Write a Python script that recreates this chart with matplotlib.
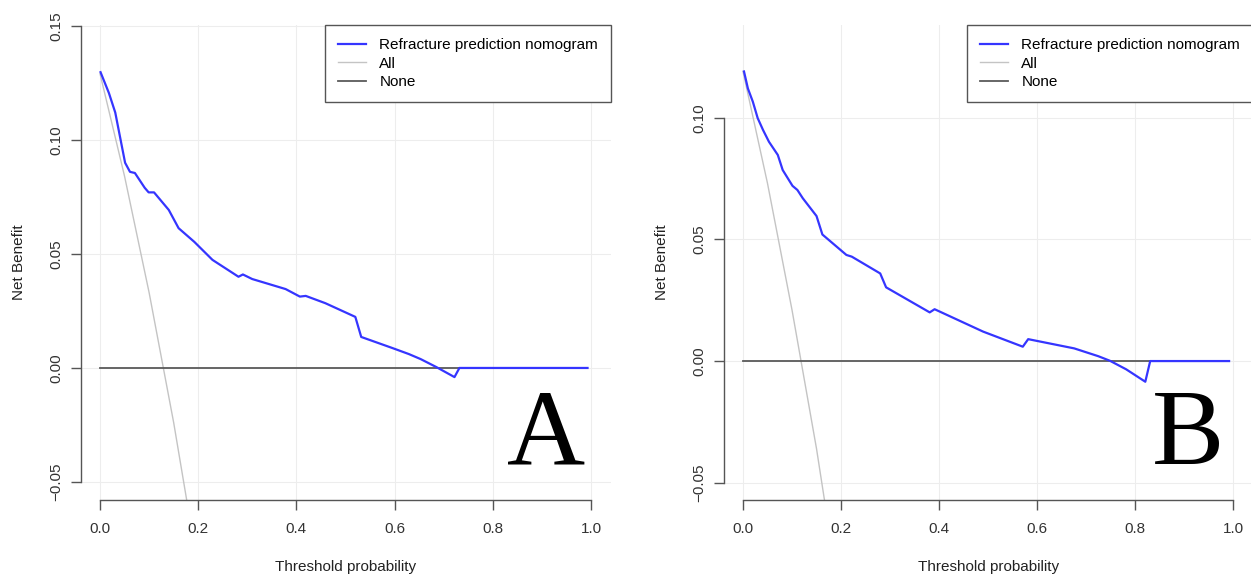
import matplotlib
matplotlib.use("Agg")
import matplotlib.pyplot as plt

plt.rcParams['font.family'] = ['Liberation Sans', 'DejaVu Sans']

# panel A: refracture nomogram
a_x = [0.001, 0.018, 0.031, 0.041, 0.051, 0.061, 0.071, 0.091, 0.099, 0.110, 0.140,
       0.160, 0.192, 0.229, 0.282, 0.291, 0.310, 0.378, 0.407, 0.419, 0.459, 0.520,
       0.532, 0.596, 0.629, 0.653, 0.685, 0.722, 0.732, 0.993]
a_y = [0.1297, 0.1206, 0.112, 0.101, 0.090, 0.086, 0.0855, 0.079, 0.077, 0.077, 0.0693,
       0.0613, 0.0553, 0.0474, 0.040, 0.041, 0.039, 0.0346, 0.0313, 0.0316, 0.0284, 0.0224,
       0.0136, 0.0087, 0.0061, 0.0039, 0.0004, -0.0040, 0.0, 0.0]
a_all_x = [0.0, 0.05, 0.10, 0.15, 0.20]
a_all_y = [0.129, 0.084, 0.033, -0.024, -0.088]

# panel B
b_x = [0.002, 0.010, 0.020, 0.030, 0.041, 0.053, 0.071, 0.081, 0.101, 0.111, 0.122,
       0.150, 0.162, 0.211, 0.222, 0.280, 0.292, 0.381, 0.391, 0.490, 0.571, 0.582,
       0.676, 0.725, 0.749, 0.782, 0.821, 0.831, 0.992]
b_y = [0.119, 0.112, 0.1066, 0.0998, 0.0949, 0.0901, 0.0847, 0.0785, 0.072, 0.0703, 0.0669,
       0.0596, 0.052, 0.0436, 0.0429, 0.036, 0.0303, 0.020, 0.0213, 0.0121, 0.0059, 0.009,
       0.0052, 0.002, 0.0001, -0.0034, -0.0085, 0.0, 0.0]
b_all_x = [0.0, 0.05, 0.10, 0.15, 0.20]
b_all_y = [0.119, 0.073, 0.021, -0.036, -0.101]

none_x = [0.0, 0.99]
none_y = [0.0, 0.0]

x_ticks = [0.0, 0.2, 0.4, 0.6, 0.8, 1.0]
a_yticks = [-0.05, 0.0, 0.05, 0.10, 0.15]
b_yticks = [-0.05, 0.0, 0.05, 0.10]

W, H = 1251, 575
fig = plt.figure(figsize=(W / 100, H / 100), dpi=100)


def panel(rect, xs, ys, all_x, all_y, ylim, yticks, letter):
    ax = fig.add_axes(rect)
    ax.set_xlim(-0.0388, 1.0408)
    ax.set_ylim(*ylim)
    for t in x_ticks:
        ax.axvline(t, color='#ededed', lw=0.8, zorder=0)
    for t in yticks:
        ax.axhline(t, color='#ededed', lw=0.8, zorder=0)
    ax.plot(all_x, all_y, color='#c4c4c4', lw=1.0, label='All', zorder=2)
    ax.plot(none_x, none_y, color='#5a5a5a', lw=1.3, label='None', zorder=2)
    ax.plot(xs, ys, color='#3535ff', lw=1.6, label='Refracture prediction nomogram', zorder=3)

    h, l = ax.get_legend_handles_labels()
    order = [2, 0, 1]
    leg = ax.legend([h[i] for i in order], [l[i] for i in order], loc='upper right',
                    borderaxespad=0, fancybox=False, framealpha=1, fontsize=11,
                    handlelength=1.8, handletextpad=0.9, borderpad=0.85, labelspacing=0.3)
    leg.get_frame().set_edgecolor('#555555')
    leg.get_frame().set_linewidth(1.0)

    for s in ['top', 'right']:
        ax.spines[s].set_visible(False)
    ax.spines['left'].set_bounds(yticks[0], yticks[-1])
    ax.spines['bottom'].set_bounds(0.0, 1.0)
    for s in ['left', 'bottom']:
        ax.spines[s].set_color('#555555')
        ax.spines[s].set_linewidth(1.0)

    ax.set_xticks(x_ticks)
    ax.set_xticklabels(['%.1f' % t for t in x_ticks])
    ax.set_yticks(yticks)
    ax.set_yticklabels([('%.2f' % t).replace('-', '\u2212') for t in yticks],
                       rotation=90, va='center')
    ax.tick_params(length=7, width=1.0, color='#555555', labelcolor='#333333',
                   labelsize=11, pad=6)
    ax.tick_params(axis='x', pad=9)

    ax.set_xlabel('Threshold probability', fontsize=11, color='#222222')
    ax.set_ylabel('Net Benefit', fontsize=11, color='#222222')
    ax.xaxis.set_label_coords(0.5, -0.127)
    ax.yaxis.set_label_coords(-0.104, 0.5)

    ax.text(0.877, 0.075, letter, transform=ax.transAxes, ha='center', va='baseline',
            fontsize=78, family='Liberation Serif', color='black')
    return ax


panel([81 / W, 75 / H, 530 / W, 475 / H], a_x, a_y, a_all_x, a_all_y,
      (-0.0579, 0.1504), a_yticks, 'A')
panel([724 / W, 75 / H, 529 / W, 475 / H], b_x, b_y, b_all_x, b_all_y,
      (-0.0571, 0.1381), b_yticks, 'B')

fig.savefig('out.png', dpi=100)
